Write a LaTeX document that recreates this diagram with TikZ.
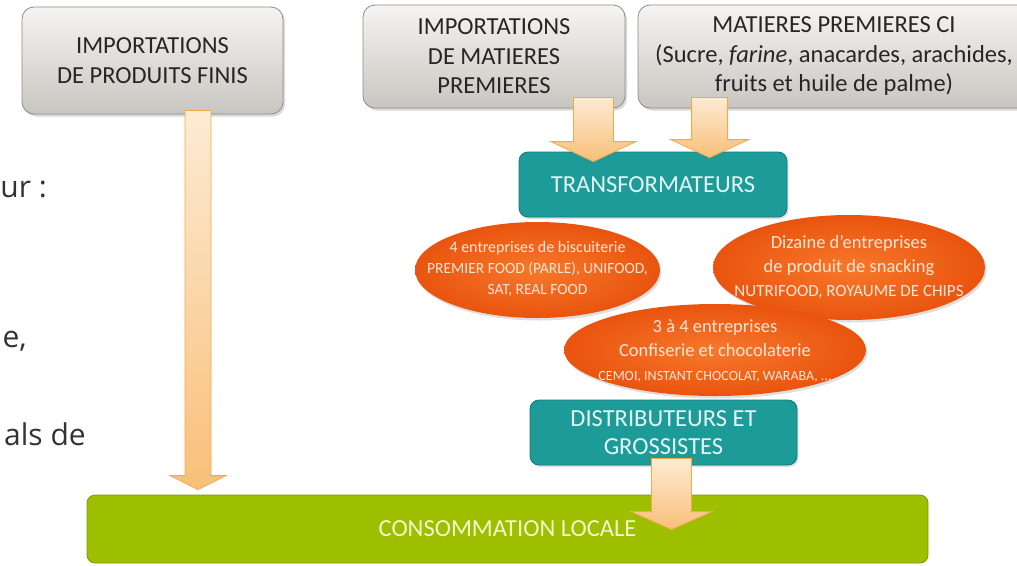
\documentclass[tikz,border=0pt]{standalone}
\usepackage{fontspec}
\setmainfont{Carlito}
\newfontfamily\sidefont{Open Sans}
\usepackage{tikz}
\usetikzlibrary{shapes.geometric, calc, shadows}

\definecolor{boxtop}{HTML}{F5F4F2}
\definecolor{boxbot}{HTML}{C8C6C0}
\definecolor{boxline}{HTML}{8E8C88}
\definecolor{boxtext}{HTML}{262626}
\definecolor{tealfill}{HTML}{1D9B99}
\definecolor{tealline}{HTML}{157A78}
\definecolor{tealtext}{HTML}{E2F5F4}
\definecolor{orangein}{HTML}{F7782A}
\definecolor{orangeout}{HTML}{E9540F}
\definecolor{orangetext}{HTML}{FDE6D6}
\definecolor{greenfill}{HTML}{9DBF00}
\definecolor{greenline}{HTML}{7C9A00}
\definecolor{greentext}{HTML}{F3F7C9}
\definecolor{arrowtop}{HTML}{FDEBD4}
\definecolor{arrowbot}{HTML}{F9BF78}
\definecolor{arrowline}{HTML}{F4A84E}

% font size for one line
\newcommand{\fsz}[2]{\fontsize{#1}{#2}\selectfont}

% block arrow going down from #1 to the tip #2
\newcommand{\flowarrow}[5]{%
  \path[flowarrow] let \p1=(#1), \p2=(#2) in
    (\x1-#3pt/2,\y1) -- (\x1+#3pt/2,\y1) -- (\x1+#3pt/2,\y2+#5pt) -- (\x1+#4pt/2,\y2+#5pt)
    -- (\x1,\y2) -- (\x1-#4pt/2,\y2+#5pt) -- (\x1-#3pt/2,\y2+#5pt) -- cycle;}

\begin{document}
\begin{tikzpicture}[x=1pt, y=-1pt,
    graybox/.style={draw=boxline, line width=0.8pt, rounded corners=12pt, top color=boxtop, bottom color=boxbot,
      text=boxtext, align=center, inner sep=0pt, font=\fsz{24.5}{29.5},
      drop shadow={shadow xshift=2pt, shadow yshift=-2.5pt, opacity=0.3}},
    tealbox/.style={draw=tealline, line width=0.8pt, fill=tealfill, rounded corners=9pt, text=tealtext,
      align=center, inner sep=0pt, font=\fsz{24.5}{28},
      drop shadow={shadow xshift=1.5pt, shadow yshift=-2pt, opacity=0.25}},
    blob/.style={ellipse, inner sep=0pt, inner color=orangein, outer color=orangeout,
      drop shadow={shadow xshift=1.5pt, shadow yshift=-2.5pt, opacity=0.25}},
    blobtext/.style={text=orangetext, align=center, inner sep=0pt},
    greenbox/.style={draw=greenline, line width=0.8pt, fill=greenfill, rounded corners=8pt, text=greentext,
      align=center, inner sep=0pt, font=\fsz{24.5}{28}},
    flowarrow/.style={draw=arrowline, line width=0.8pt, top color=arrowtop, bottom color=arrowbot},
    sidetext/.style={font=\sidefont\fsz{30}{36}, text=black!80, inner sep=0pt}]
    \useasboundingbox (0,0) rectangle (1017,565);
    \clip (0,0) rectangle (1017,565);

    % Cut-off text on the left
    \node[sidetext, anchor=base east] (cutA) at (47,197) {ur :};
    \node[sidetext, anchor=base east] (cutB) at (27,347) {e,};
    \node[sidetext, anchor=base east] (cutC) at (86,445) {als de};

    % Sources at the top
    \node[graybox, minimum width=261pt, minimum height=107pt] (impfinis) at (152.5,60.5)
      {IMPORTATIONS\\DE PRODUITS FINIS};
    \node[graybox, minimum width=262pt, minimum height=103pt] (impmp) at (494,56.5)
      {IMPORTATIONS\\DE MATIERES\\PREMIERES};
    \node[graybox, minimum width=392pt, minimum height=103pt] (mpci) at (834,56.5)
      {MATIERES PREMIERES CI\\(Sucre, \textit{farine}, anacardes, arachides,\\fruits et huile de palme)};

    % Groups of firms
    \node[blob, minimum width=245pt, minimum height=96pt] (biscuit) at (537.5,270) {};
    \node[blobtext, font=\fsz{16}{21}] (biscuittxt) at ($(biscuit)+(0,-1)$)
      {4 entreprises de biscuiterie\\
       \fsz{15.5}{20}PREMIER FOOD (PARLE), UNIFOOD,\\\fsz{15.5}{20}SAT, REAL FOOD};
    \node[blob, minimum width=272pt, minimum height=105pt] (snack) at (849,267.5) {};
    \node[blobtext, font=\fsz{18.5}{24}] (snacktxt) at (snack)
      {Dizaine d'entreprises\\de produit de snacking\\
       \fsz{17}{21}NUTRIFOOD, ROYAUME DE CHIPS};
    \node[blob, minimum width=302pt, minimum height=92pt] (choco) at (715,350) {};
    \node[blobtext, font=\fsz{18.5}{24}] (chocotxt) at ($(choco)+(0,1)$)
      {3 à 4 entreprises\\Confiserie et chocolaterie\\
       \fsz{14}{18}CEMOI, INSTANT CHOCOLAT, WARABA, ...};

    % Processing and trade
    \node[tealbox, minimum width=268pt, minimum height=65pt] (trans) at (653,184.5) {TRANSFORMATEURS};
    \node[tealbox, minimum width=267pt, minimum height=65pt] (distrib) at (663.5,432.5)
      {DISTRIBUTEURS ET\\GROSSISTES};

    % Final market
    \node[greenbox, minimum width=841pt, minimum height=68pt] (conso) at (507.5,529) {CONSOMMATION LOCALE};

    % Arrows
    \coordinate (a1s) at ($(impfinis.south)+(45.5,-4)$);
    \coordinate (a1t) at ($(a1s |- conso.north)+(0,-5)$);
    \coordinate (a2s) at ($(impmp.south east)+(-32,-11)$);
    \coordinate (a2t) at ($(a2s |- trans.north)+(0,10)$);
    \coordinate (a3s) at ($(mpci.south west)+(72,-11)$);
    \coordinate (a3t) at ($(a3s |- trans.north)+(0,6)$);
    \coordinate (a4s) at ($(distrib.south)+(8,-7)$);
    \coordinate (a4t) at ($(a4s |- conso.north)+(0,35)$);
    \flowarrow{a1s}{a1t}{26}{56}{14}
    \flowarrow{a2s}{a2t}{40}{85}{20}
    \flowarrow{a3s}{a3t}{36}{78}{18}
    \flowarrow{a4s}{a4t}{40}{81}{18}
\end{tikzpicture}
\end{document}
